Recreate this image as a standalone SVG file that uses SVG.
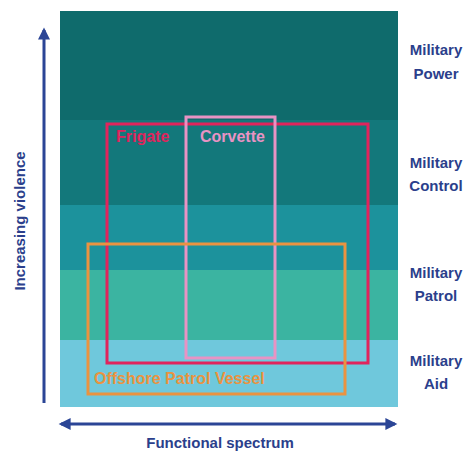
<svg xmlns="http://www.w3.org/2000/svg" width="468" height="452" viewBox="0 0 468 452">
<defs>
<style>
.lbl{font-family:"Liberation Sans",Arial,sans-serif;font-weight:bold;font-size:15px;fill:#2b3f8c;text-anchor:middle}
.box{fill:none;stroke-width:3}
.vt{font-family:"Liberation Sans",Arial,sans-serif;font-weight:bold;font-size:16px}
.ax{stroke:#2b4596;stroke-width:3;fill:none}
</style>
<marker id="ah" viewBox="0 0 10 10" refX="8" refY="5" markerWidth="4.5" markerHeight="4" orient="auto-start-reverse" markerUnits="strokeWidth">
<path d="M0,0 L10,5 L0,10 z" fill="#2b4596"/>
</marker>
</defs>
<rect width="468" height="452" fill="#ffffff"/>
<g id="bands">
<rect x="60" y="11" width="338" height="109" fill="#0f6b6c"/>
<rect x="60" y="120" width="338" height="85" fill="#13787b"/>
<rect x="60" y="205" width="338" height="65" fill="#1c929c"/>
<rect x="60" y="270" width="338" height="70" fill="#3bb4a1"/>
<rect x="60" y="340" width="338" height="67" fill="#6fc8dc"/>
</g>
<g id="frigate">
<rect class="box" x="107" y="124" width="261" height="239" stroke="#e0245c"/>
<text class="vt" x="116" y="142" fill="#e0245c">Frigate</text>
</g>
<g id="corvette">
<rect class="box" x="186" y="117" width="89" height="241" stroke="#e893c4"/>
<text class="vt" x="200" y="142" fill="#e893c4">Corvette</text>
</g>
<g id="opv">
<rect class="box" x="88" y="244" width="257" height="150" stroke="#ea9340"/>
<text class="vt" x="94" y="384" fill="#ea9340">Offshore Patrol Vessel</text>
</g>
<g id="levels">
<text class="lbl" x="436" y="55">Military</text>
<text class="lbl" x="436" y="79">Power</text>
<text class="lbl" x="436" y="168">Military</text>
<text class="lbl" x="436" y="191">Control</text>
<text class="lbl" x="436" y="278">Military</text>
<text class="lbl" x="436" y="301">Patrol</text>
<text class="lbl" x="436" y="366">Military</text>
<text class="lbl" x="436" y="389">Aid</text>
</g>
<g id="connectors">
<line class="ax" x1="44" y1="403" x2="44" y2="30" marker-end="url(#ah)"/>
<line class="ax" x1="61" y1="424" x2="395" y2="424" marker-start="url(#ah)" marker-end="url(#ah)"/>
</g>
<g id="axis-labels">
<text class="lbl" x="0" y="0" transform="translate(25,221) rotate(-90)" font-size="16">Increasing violence</text>
<text class="lbl" x="220" y="448" font-size="16.5">Functional spectrum</text>
</g>
</svg>
